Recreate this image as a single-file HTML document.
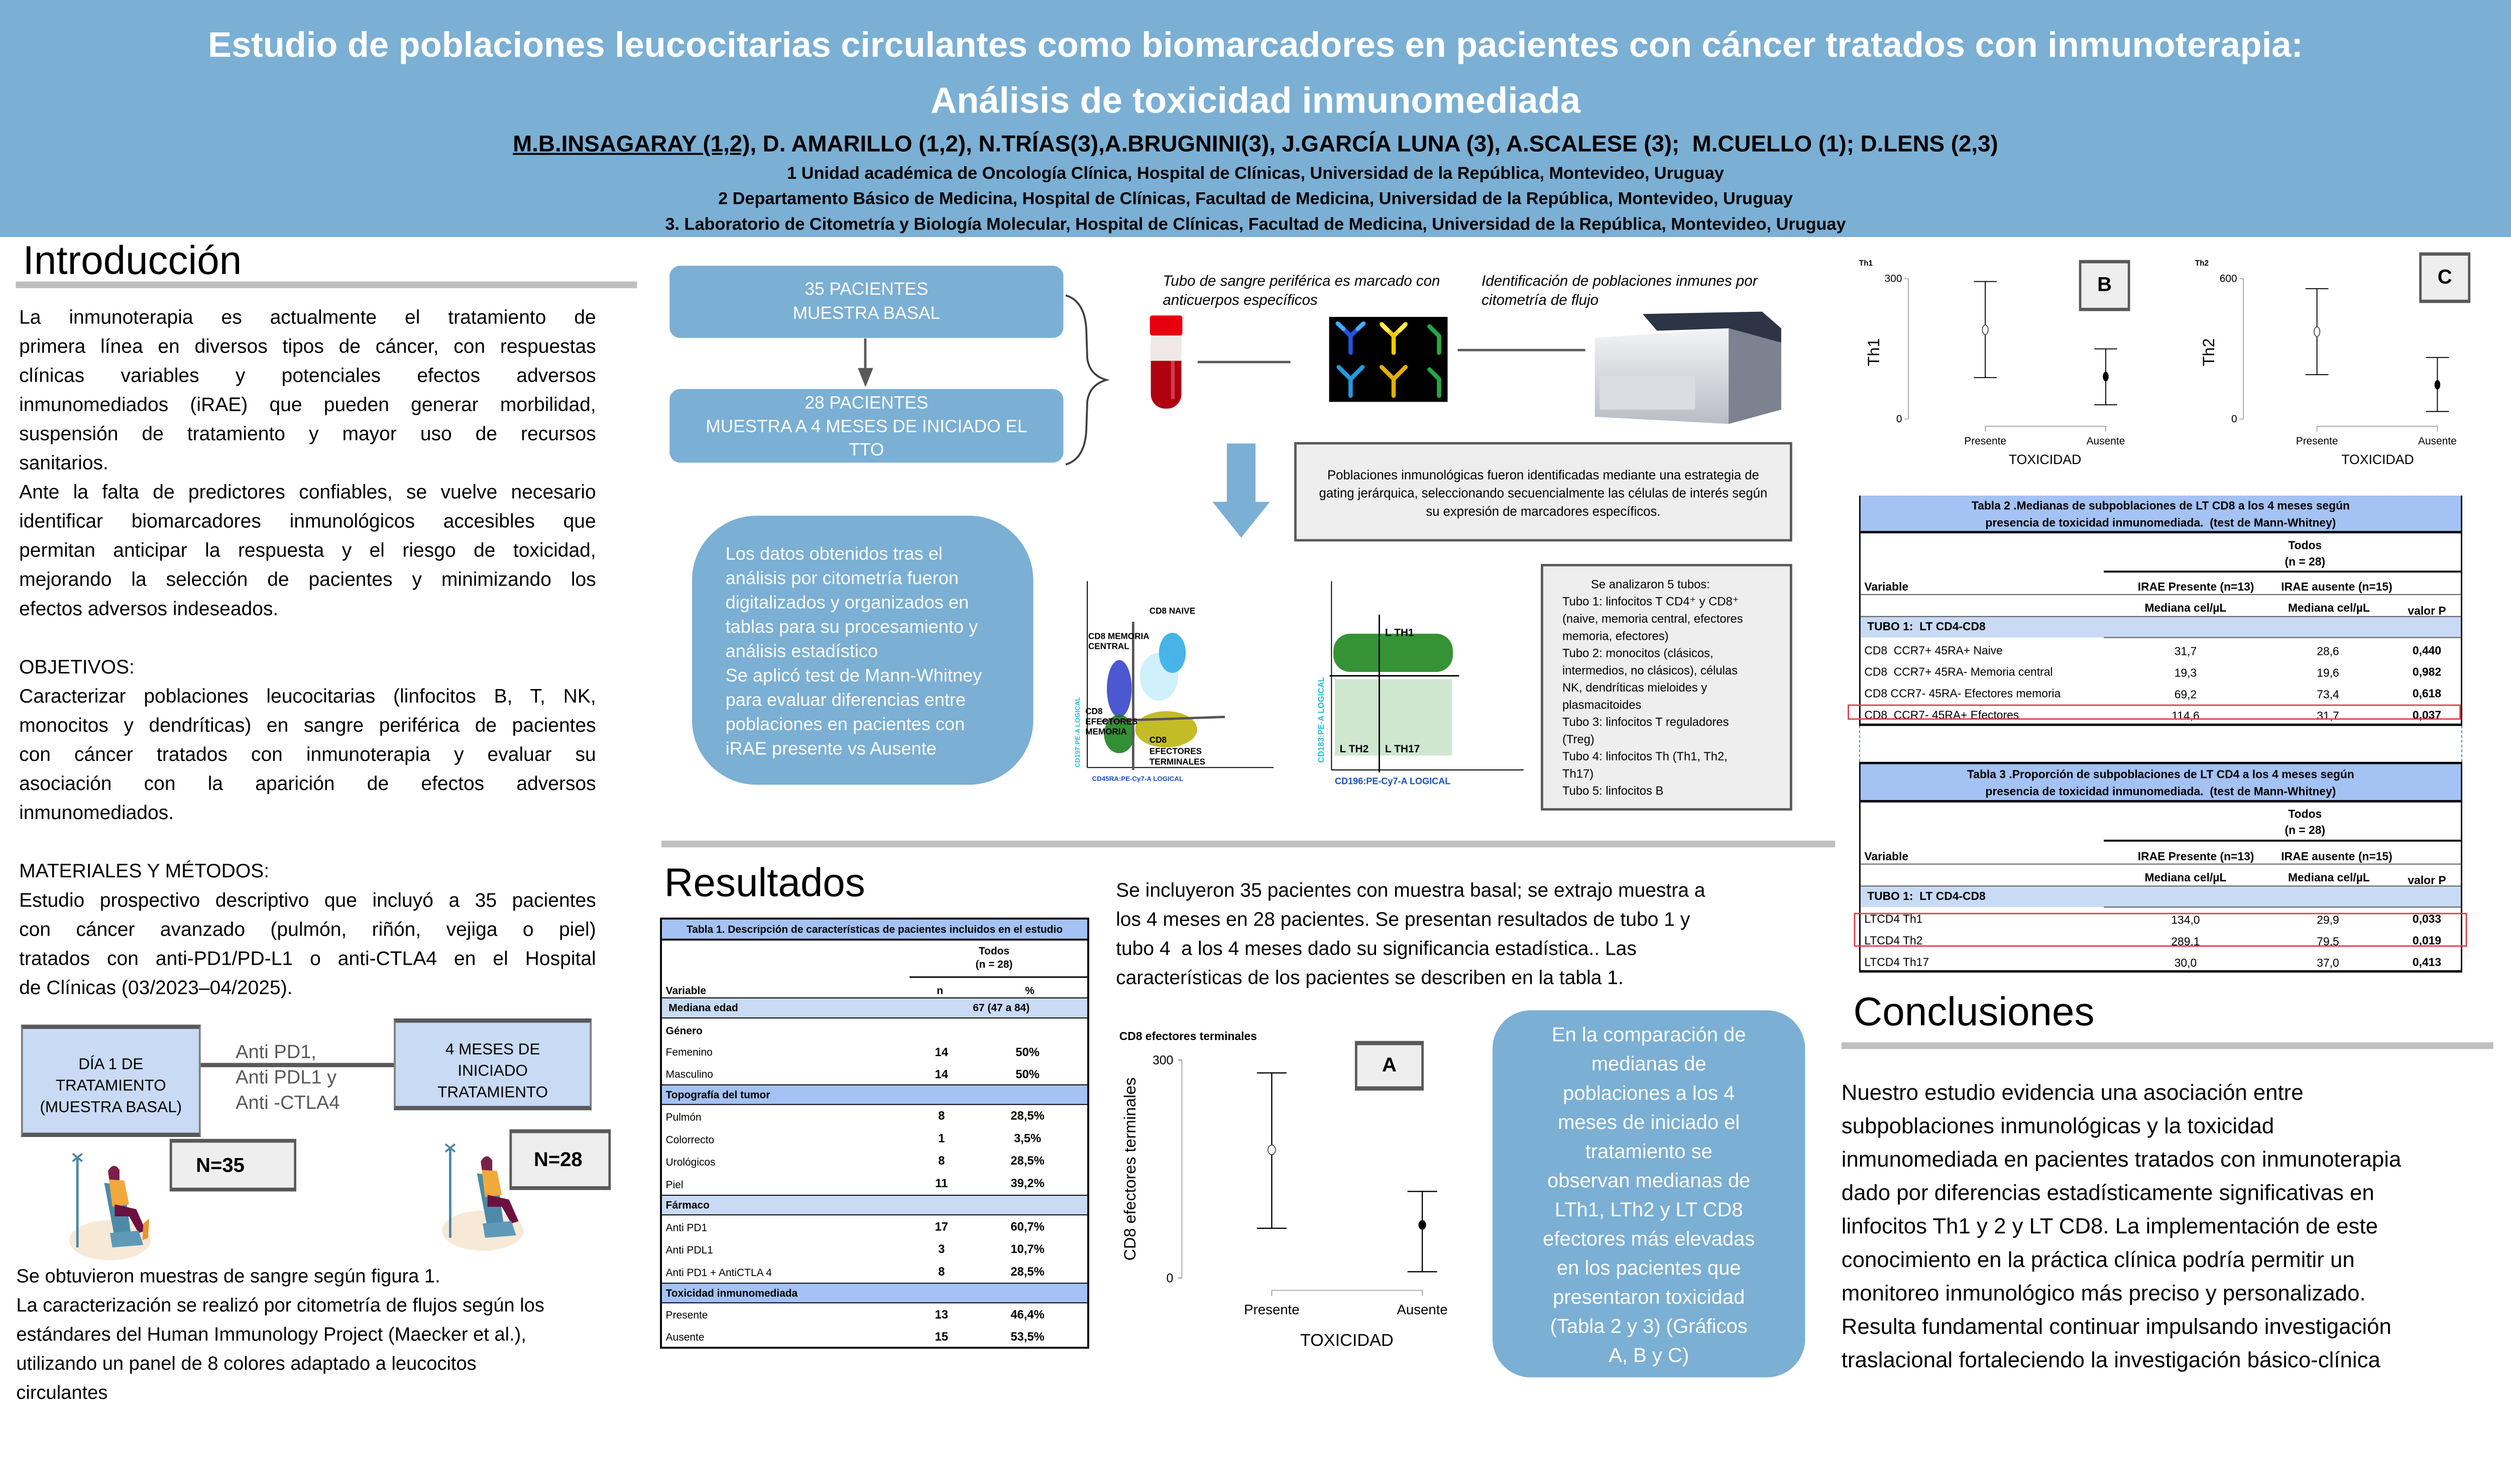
<!DOCTYPE html>
<html><head><meta charset="utf-8">
<style>
*{margin:0;padding:0;box-sizing:border-box}
html,body{width:100%;height:100%;overflow:hidden;background:#fff}
body{position:relative;font-family:"Liberation Sans",sans-serif;color:#000}
#w{position:absolute;left:0;top:0;width:5254px;height:2955px;overflow:hidden;transform-origin:0 0;background:#fff}
.a{position:absolute}
.c{text-align:center}
.l{position:absolute;white-space:nowrap}
.j{text-align:justify;text-align-last:justify;white-space:nowrap;height:61px;line-height:61px}
.n{white-space:nowrap;height:61px;line-height:61px}
.rb{position:absolute;background:#7bafd4;color:#fff}
.gb{position:absolute;background:#eeeeee;border:5px solid #595959}
</style></head><body><div id="w">

<!-- HEADER -->
<div class="a" style="left:0;top:0;width:5254px;height:496px;background:#7bafd4"></div>
<div class="a c" style="left:0;width:5254px;top:48px;font-size:74px;font-weight:bold;color:#fff;line-height:92px;white-space:nowrap;overflow:hidden">Estudio de poblaciones leucocitarias circulantes como biomarcadores en pacientes con cáncer tratados con inmunoterapia:</div>
<div class="a c" style="left:0;width:5254px;top:165px;font-size:76px;font-weight:bold;color:#fff;line-height:92px">Análisis de toxicidad inmunomediada</div>
<div class="a c" style="left:0;width:5254px;top:272px;font-size:48px;font-weight:bold;line-height:60px;white-space:nowrap;overflow:hidden"><u>M.B.INSAGARAY (1,2),</u> D. AMARILLO (1,2), N.TRÍAS(3),A.BRUGNINI(3), J.GARCÍA LUNA (3), A.SCALESE (3);&nbsp; M.CUELLO (1); D.LENS (2,3)</div>
<div class="a c" style="left:0;width:5254px;top:338px;font-size:36px;font-weight:bold;line-height:48px">1 Unidad académica de Oncología Clínica, Hospital de Clínicas, Universidad de la República, Montevideo, Uruguay</div>
<div class="a c" style="left:0;width:5254px;top:391px;font-size:36px;font-weight:bold;line-height:48px">2 Departamento Básico de Medicina, Hospital de Clínicas, Facultad de Medicina, Universidad de la República, Montevideo, Uruguay</div>
<div class="a c" style="left:0;width:5254px;top:445px;font-size:36px;font-weight:bold;line-height:48px">3. Laboratorio de Citometría y Biología Molecular, Hospital de Clínicas, Facultad de Medicina, Universidad de la República, Montevideo, Uruguay</div>

<!-- INTRO -->
<div class="l" style="left:48px;top:492px;font-size:84px;line-height:104px">Introducción</div>
<div class="a" style="left:33px;top:589px;width:1300px;height:14px;background:#bfbfbf"></div>
<div class="a" style="left:40px;top:633px;width:1207px;font-size:41px">
<div class="j">La inmunoterapia es actualmente el tratamiento de</div>
<div class="j">primera línea en diversos tipos de cáncer, con respuestas</div>
<div class="j">clínicas variables y potenciales efectos adversos</div>
<div class="j">inmunomediados (iRAE) que pueden generar morbilidad,</div>
<div class="j">suspensión de tratamiento y mayor uso de recursos</div>
<div class="n">sanitarios.</div>
<div class="j">Ante la falta de predictores confiables, se vuelve necesario</div>
<div class="j">identificar biomarcadores inmunológicos accesibles que</div>
<div class="j">permitan anticipar la respuesta y el riesgo de toxicidad,</div>
<div class="j">mejorando la selección de pacientes y minimizando los</div>
<div class="n">efectos adversos indeseados.</div>
<div class="n"></div>
<div class="n">OBJETIVOS:</div>
<div class="j">Caracterizar poblaciones leucocitarias (linfocitos B, T, NK,</div>
<div class="j">monocitos y dendríticas) en sangre periférica de pacientes</div>
<div class="j">con cáncer tratados con inmunoterapia y evaluar su</div>
<div class="j">asociación con la aparición de efectos adversos</div>
<div class="n">inmunomediados.</div>
<div class="n"></div>
<div class="n">MATERIALES Y MÉTODOS:</div>
<div class="j">Estudio prospectivo descriptivo que incluyó a 35 pacientes</div>
<div class="j">con cáncer avanzado (pulmón, riñón, vejiga o piel)</div>
<div class="j">tratados con anti-PD1/PD-L1 o anti-CTLA4 en el Hospital</div>
<div class="n">de Clínicas (03/2023–04/2025).</div>
</div>

<!-- left flow -->
<div class="a" style="left:419px;top:2224px;width:407px;height:9px;background:#595959"></div>
<div class="a c" style="left:44px;top:2144px;width:376px;height:235px;background:#c9daf5;border:4px solid #7f7f7f;border-top:9px solid #595959;border-bottom:9px solid #595959;font-size:33px;line-height:45px;padding-top:50px">DÍA 1 DE<br>TRATAMIENTO<br>(MUESTRA BASAL)</div>
<div class="a c" style="left:824px;top:2131px;width:414px;height:192px;background:#c9daf5;border:4px solid #7f7f7f;border-top:9px solid #595959;border-bottom:9px solid #595959;font-size:33px;line-height:45px;padding-top:32px">4 MESES DE<br>INICIADO<br>TRATAMIENTO</div>
<div class="a" style="left:493px;top:2175px;font-size:40px;line-height:53px;color:#595959;white-space:nowrap">Anti PD1,<br>Anti PDL1 y<br>Anti -CTLA4</div>
<div class="gb" style="left:355px;top:2383px;width:265px;height:110px;border-top-width:8px;border-bottom-width:8px;font-weight:bold;font-size:42px;line-height:94px;padding-left:50px">N=35</div>
<div class="gb" style="left:1066px;top:2363px;width:212px;height:127px;border-top-width:8px;border-bottom-width:8px;font-weight:bold;font-size:42px;line-height:110px;padding-left:46px">N=28</div>
<svg class="a" style="left:100px;top:2400px" width="260" height="240" viewBox="0 0 260 240">
<ellipse cx="130" cy="195" rx="85" ry="42" fill="#f8e8d6"/>
<line x1="62" y1="20" x2="62" y2="210" stroke="#4a86a8" stroke-width="5"/>
<line x1="52" y1="14" x2="72" y2="30" stroke="#4a86a8" stroke-width="4"/><line x1="72" y1="14" x2="52" y2="30" stroke="#4a86a8" stroke-width="4"/>
<path d="M118 75 L140 190 L175 190 L160 80 Z" fill="#4d8aa8"/>
<circle cx="138" cy="55" r="12" fill="#f2c6a0"/><path d="M126 50 Q138 30 150 48 L150 80 L130 80 Z" fill="#7a1f4a"/>
<path d="M128 68 L160 70 L170 120 L135 125 Z" fill="#f2a93b"/>
<path d="M140 120 L185 130 L205 175 L190 180 L170 145 L140 145 Z" fill="#6b1040"/>
<path d="M200 160 L212 150 L210 190 L198 195 Z" fill="#e8952a"/>
<path d="M130 180 L190 175 L200 205 L135 210 Z" fill="#5e9ab8"/>
</svg>
<svg class="a" style="left:880px;top:2380px" width="260" height="240" viewBox="0 0 260 240">
<ellipse cx="130" cy="195" rx="85" ry="42" fill="#f8e8d6"/>
<line x1="62" y1="20" x2="62" y2="210" stroke="#4a86a8" stroke-width="5"/>
<line x1="52" y1="14" x2="72" y2="30" stroke="#4a86a8" stroke-width="4"/><line x1="72" y1="14" x2="52" y2="30" stroke="#4a86a8" stroke-width="4"/>
<path d="M118 75 L140 190 L175 190 L160 80 Z" fill="#4d8aa8"/>
<circle cx="138" cy="55" r="12" fill="#f2c6a0"/><path d="M126 50 Q138 30 150 48 L150 80 L130 80 Z" fill="#7a1f4a"/>
<path d="M128 68 L160 70 L170 120 L135 125 Z" fill="#f2a93b"/>
<path d="M140 120 L185 130 L205 175 L190 180 L170 145 L140 145 Z" fill="#6b1040"/>
<path d="M130 180 L190 175 L200 205 L135 210 Z" fill="#5e9ab8"/>
</svg>
<div class="a" style="left:34px;top:2640px;font-size:40px">
<div class="n">Se obtuvieron muestras de sangre según figura 1.</div>
<div class="n">La caracterización se realizó por citometría de flujos según los</div>
<div class="n">estándares del Human Immunology Project (Maecker et al.),</div>
<div class="n">utilizando un panel de 8 colores adaptado a leucocitos</div>
<div class="n">circulantes</div>
</div>

<!-- MIDDLE TOP FLOW -->
<div class="rb c" style="left:1401px;top:556px;width:824px;height:151px;border-radius:22px;font-size:37px;line-height:50px;padding-top:24px">35 PACIENTES<br>MUESTRA BASAL</div>
<div class="a" style="left:1808px;top:708px;width:5px;height:70px;background:#595959"></div>
<div class="a" style="left:1795px;top:770px;width:0;height:0;border-left:16px solid transparent;border-right:16px solid transparent;border-top:40px solid #595959"></div>
<div class="rb c" style="left:1401px;top:814px;width:824px;height:154px;border-radius:22px;font-size:37px;line-height:49px;padding-top:4px">28 PACIENTES<br>MUESTRA A 4 MESES DE INICIADO EL<br>TTO</div>
<svg class="a" style="left:2225px;top:610px" width="130" height="370"><path d="M5 8 Q45 20 48 80 L50 140 Q55 175 90 185 Q55 195 50 230 L48 290 Q45 350 5 362" fill="none" stroke="#404040" stroke-width="4"/></svg>
<div class="l" style="left:2433px;top:568px;font-size:31px;font-style:italic;line-height:40px">Tubo de sangre periférica es marcado con<br>anticuerpos específicos</div>
<div class="l" style="left:3100px;top:568px;font-size:31px;font-style:italic;line-height:40px">Identificación de poblaciones inmunes por<br>citometría de flujo</div>
<svg class="a" style="left:2400px;top:655px" width="80" height="210"><rect x="8" y="40" width="64" height="160" rx="30" fill="#b00010"/><rect x="8" y="40" width="64" height="60" fill="#f0e8e8"/><rect x="6" y="5" width="68" height="42" rx="5" fill="#e8000f"/><rect x="50" y="100" width="8" height="80" fill="#e86070" opacity=".6"/></svg>
<div class="a" style="left:2506px;top:755px;width:194px;height:5px;background:#595959"></div>
<svg class="a" style="left:2781px;top:663px" width="248" height="178" viewBox="0 0 248 178"><rect width="248" height="178" fill="#000"/>
<g stroke-width="9" fill="none" stroke-linecap="round">
<path d="M45 75 L45 40 M45 40 L20 15 M45 40 L70 15" stroke="#2255dd"/><path d="M30 25 L18 14 M60 25 L72 14" stroke="#44aaff"/>
<path d="M135 75 L135 40 M135 40 L110 15 M135 40 L160 15" stroke="#eecc00"/><path d="M122 28 L112 18 M148 28 L158 18" stroke="#ffee55"/>
<path d="M45 165 L45 130 M45 130 L20 105 M45 130 L70 105" stroke="#2299dd"/>
<path d="M135 165 L135 130 M135 130 L110 105 M135 130 L160 105" stroke="#e0b000"/>
<path d="M230 75 L230 40 M230 40 L210 20" stroke="#22aa44"/><path d="M230 165 L230 130 M230 130 L210 110" stroke="#22aa44"/>
</g></svg>
<div class="a" style="left:3050px;top:730px;width:267px;height:5px;background:#595959"></div>
<svg class="a" style="left:3317px;top:647px" width="426" height="244" viewBox="0 0 426 244">
<defs><linearGradient id="gm" x1="0" y1="0" x2="0" y2="1"><stop offset="0" stop-color="#f4f4f6"/><stop offset="1" stop-color="#b8bcc4"/></linearGradient></defs>
<path d="M20 60 L300 40 L410 70 L410 210 L300 240 L20 225 Z" fill="url(#gm)"/>
<path d="M120 10 L370 5 L410 40 L410 70 L300 40 L150 45 Z" fill="#2c3446"/>
<path d="M300 40 L410 70 L410 210 L300 240 Z" fill="#7c8290"/>
<rect x="30" y="140" width="200" height="70" fill="#dadde2"/>
</svg>
<div class="a" style="left:2567px;top:928px;width:60px;height:125px;background:#7bafd4"></div>
<div class="a" style="left:2537px;top:1050px;width:0;height:0;border-left:60px solid transparent;border-right:60px solid transparent;border-top:75px solid #7bafd4"></div>
<div class="gb c" style="left:2708px;top:925px;width:1042px;height:208px;font-size:27px;line-height:38px;padding-top:45px">Poblaciones inmunológicas fueron identificadas mediante una estrategia de<br>gating jerárquica, seleccionando secuencialmente las células de interés según<br>su expresión de marcadores específicos.</div>
<div class="rb" style="left:1448px;top:1079px;width:714px;height:563px;border-radius:135px;font-size:38px;line-height:51px;padding:55px 0 0 70px;white-space:nowrap;overflow:hidden">Los datos obtenidos tras el<br>análisis por citometría fueron<br>digitalizados y organizados en<br>tablas para su procesamiento y<br>análisis estadístico<br>Se aplicó test de Mann-Whitney<br>para evaluar diferencias entre<br>poblaciones en pacientes con<br>iRAE presente vs Ausente</div>

<!-- flow plot 1 -->
<svg class="a" style="left:2245px;top:1206px" width="440" height="440" viewBox="0 0 440 440" font-family="Liberation Sans, sans-serif">
<line x1="30" y1="10" x2="30" y2="400" stroke="#000" stroke-width="2"/><line x1="30" y1="400" x2="420" y2="400" stroke="#000" stroke-width="2"/>
<ellipse cx="97" cy="235" rx="26" ry="60" fill="#1020c0" opacity=".75"/>
<ellipse cx="208" cy="160" rx="28" ry="42" fill="#1aa0e0" opacity=".8"/>
<ellipse cx="180" cy="210" rx="40" ry="50" fill="#40c0f0" opacity=".25"/>
<ellipse cx="97" cy="330" rx="32" ry="40" fill="#107a10" opacity=".85"/>
<ellipse cx="195" cy="320" rx="65" ry="38" fill="#b8b000" opacity=".85"/>
<line x1="126" y1="95" x2="126" y2="405" stroke="#555" stroke-width="5"/>
<line x1="60" y1="303" x2="318" y2="294" stroke="#555" stroke-width="5"/>
<g font-weight="bold" font-size="18"><text x="160" y="78">CD8 NAIVE</text><text x="32" y="131">CD8 MEMORIA</text><text x="32" y="152">CENTRAL</text>
<text x="26" y="288">CD8</text><text x="26" y="310">EFECTORES</text><text x="26" y="331">MEMORIA</text>
<text x="160" y="348">CD8</text><text x="160" y="372">EFECTORES</text><text x="160" y="394">TERMINALES</text></g>
<text x="40" y="428" font-size="14" font-weight="bold" fill="#1a50c0">CD45RA:PE-Cy7-A LOGICAL</text>
<text transform="translate(14,400) rotate(-90)" font-size="14" font-weight="bold" fill="#20c0d0">CD197:PE-A LOGICAL</text>
</svg>
<svg class="a" style="left:2748px;top:1206px" width="455" height="450" viewBox="0 0 455 450" font-family="Liberation Sans, sans-serif">
<line x1="38" y1="10" x2="38" y2="405" stroke="#000" stroke-width="2"/><line x1="38" y1="405" x2="440" y2="405" stroke="#000" stroke-width="2"/>
<rect x="42" y="120" width="250" height="80" rx="35" fill="#128012" opacity=".85"/>
<rect x="45" y="215" width="245" height="160" fill="#40a040" opacity=".25"/>
<line x1="138" y1="80" x2="138" y2="410" stroke="#000" stroke-width="3"/>
<line x1="34" y1="208" x2="305" y2="208" stroke="#000" stroke-width="3"/>
<g font-weight="bold" font-size="22"><text x="150" y="125">L TH1</text><text x="55" y="368">L TH2</text><text x="150" y="368">L TH17</text></g>
<text x="45" y="435" font-size="19" font-weight="bold" fill="#1a50c0">CD196:PE-Cy7-A LOGICAL</text>
<text transform="translate(22,390) rotate(-90)" font-size="17" font-weight="bold" fill="#20c0d0">CD183:PE-A LOGICAL</text>
</svg>
<div class="gb" style="left:3224px;top:1180px;width:526px;height:516px;font-size:25px;line-height:36px;padding:20px 0 0 40px;white-space:nowrap;overflow:hidden"><span style="padding-left:60px">Se analizaron 5 tubos:</span><br>Tubo 1: linfocitos T CD4⁺ y CD8⁺<br>(naive, memoria central, efectores<br>memoria, efectores)<br>Tubo 2: monocitos (clásicos,<br>intermedios, no clásicos), células<br>NK, dendríticas mieloides y<br>plasmacitoides<br>Tubo 3: linfocitos T reguladores<br>(Treg)<br>Tubo 4: linfocitos Th (Th1, Th2,<br>Th17)<br>Tubo 5: linfocitos B</div>

<div class="a" style="left:1384px;top:1759px;width:2456px;height:14px;background:#bfbfbf"></div>
<div class="l" style="left:1390px;top:1794px;font-size:84px;line-height:104px">Resultados</div>

<!-- TABLE 1 -->
<div class="a" style="left:1381px;top:1920px;width:898px;height:902px;border:4px solid #000;font-size:22px">
<div class="a c" style="left:0;top:0;width:890px;height:44px;background:#a4c2f4;border-bottom:4px solid #000;font-weight:bold;line-height:42px">Tabla 1. Descripción de características de pacientes incluidos en el estudio</div>
<div class="a c" style="left:620px;top:52px;width:150px;font-weight:bold;line-height:28px">Todos<br>(n = 28)</div>
<div class="a" style="left:518px;top:119px;width:372px;height:3px;background:#000"></div>
<div class="a" style="left:8px;top:136px;font-weight:bold">Variable</div><div class="a" style="left:575px;top:136px;font-weight:bold">n</div><div class="a" style="left:760px;top:136px;font-weight:bold">%</div>
<div class="a" style="left:0;top:163px;width:890px;height:44px;background:#c9daf5;border-top:2px solid #000;border-bottom:2px solid #000;font-weight:bold;line-height:40px"><span style="padding-left:14px">Mediana edad</span><span style="position:absolute;left:710px;transform:translateX(-50%)">67 (47 a 84)</span></div>
<div class="a" style="left:8px;top:220px;font-weight:bold">Género</div>
<div class="a" style="left:0;top:345px;width:890px;height:43px;background:#a4c2f4;border-top:2px solid #000;border-bottom:2px solid #000;line-height:40px;font-weight:bold;padding-left:8px">Topografía del tumor</div>
<div class="a" style="left:0;top:576px;width:890px;height:43px;background:#c9daf5;border-top:2px solid #000;border-bottom:2px solid #000;line-height:40px;font-weight:bold;padding-left:8px">Fármaco</div>
<div class="a" style="left:0;top:760px;width:890px;height:43px;background:#a4c2f4;border-top:2px solid #000;border-bottom:2px solid #000;line-height:40px;font-weight:bold;padding-left:8px">Toxicidad inmunomediada</div>
<div class="a" style="left:8px;top:255px;line-height:46px">Femenino<br>Masculino</div>
<div class="a c" style="left:540px;top:255px;width:90px;line-height:46px;font-weight:bold;font-size:25px">14<br>14</div>
<div class="a c" style="left:700px;top:255px;width:130px;line-height:46px;font-weight:bold;font-size:25px">50%<br>50%</div>
<div class="a" style="left:8px;top:390px;line-height:47px">Pulmón<br>Colorrecto<br>Urológicos<br>Piel</div>
<div class="a c" style="left:540px;top:388px;width:90px;line-height:47px;font-weight:bold;font-size:25px">8<br>1<br>8<br>11</div>
<div class="a c" style="left:700px;top:388px;width:130px;line-height:47px;font-weight:bold;font-size:25px">28,5%<br>3,5%<br>28,5%<br>39,2%</div>
<div class="a" style="left:8px;top:621px;line-height:47px">Anti PD1<br>Anti PDL1<br>Anti PD1 + AntiCTLA 4</div>
<div class="a c" style="left:540px;top:620px;width:90px;line-height:47px;font-weight:bold;font-size:25px">17<br>3<br>8</div>
<div class="a c" style="left:700px;top:620px;width:130px;line-height:47px;font-weight:bold;font-size:25px">60,7%<br>10,7%<br>28,5%</div>
<div class="a" style="left:8px;top:805px;line-height:46px">Presente<br>Ausente</div>
<div class="a c" style="left:540px;top:804px;width:90px;line-height:46px;font-weight:bold;font-size:25px">13<br>15</div>
<div class="a c" style="left:700px;top:804px;width:130px;line-height:46px;font-weight:bold;font-size:25px">46,4%<br>53,5%</div>
</div>

<div class="a" style="left:2335px;top:1832px;font-size:41px">
<div class="n">Se incluyeron 35 pacientes con muestra basal; se extrajo muestra a</div>
<div class="n">los 4 meses en 28 pacientes. Se presentan resultados de tubo 1 y</div>
<div class="n">tubo 4&nbsp; a los 4 meses dado su significancia estadística.. Las</div>
<div class="n">características de los pacientes se describen en la tabla 1.</div>
</div>

<!-- CHART A -->
<svg class="a" style="left:2330px;top:2140px" width="700" height="700" viewBox="2330 2140 700 700" font-family="Liberation Sans, sans-serif">
<text x="2342" y="2176" font-size="24" font-weight="bold">CD8 efectores terminales</text>
<line x1="2473" y1="2218" x2="2473" y2="2674" stroke="#aaa" stroke-width="2"/>
<line x1="2465" y1="2218" x2="2473" y2="2218" stroke="#888" stroke-width="2"/><line x1="2465" y1="2674" x2="2473" y2="2674" stroke="#888" stroke-width="2"/>
<text x="2455" y="2227" font-size="26" text-anchor="end">300</text><text x="2455" y="2683" font-size="26" text-anchor="end">0</text>
<text transform="translate(2376,2446) rotate(-90)" font-size="34" text-anchor="middle">CD8 efectores terminales</text>
<g stroke="#000" stroke-width="2.5" fill="none">
<line x1="2661" y1="2245" x2="2661" y2="2570"/><line x1="2630" y1="2245" x2="2692" y2="2245"/><line x1="2630" y1="2570" x2="2692" y2="2570"/>
<line x1="2976" y1="2493" x2="2976" y2="2661"/><line x1="2945" y1="2493" x2="3007" y2="2493"/><line x1="2945" y1="2661" x2="3007" y2="2661"/>
</g>
<ellipse cx="2661" cy="2406" rx="8" ry="10" fill="#fff" stroke="#555" stroke-width="2"/>
<ellipse cx="2976" cy="2563" rx="8" ry="10" fill="#000"/>
<polyline points="2661,2712 2661,2700 2976,2700 2976,2712" fill="none" stroke="#aaa" stroke-width="2"/>
<text x="2661" y="2750" font-size="29" text-anchor="middle">Presente</text><text x="2976" y="2750" font-size="29" text-anchor="middle">Ausente</text>
<text x="2818" y="2816" font-size="36" text-anchor="middle">TOXICIDAD</text>
</svg>
<div class="gb c" style="left:2835px;top:2178px;width:144px;height:104px;border-top-width:9px;border-bottom-width:9px;font-weight:bold;font-size:42px;line-height:82px">A</div>

<div class="rb c" style="left:3123px;top:2114px;width:654px;height:768px;border-radius:80px;font-size:42px;line-height:61px;padding-top:20px;white-space:nowrap;overflow:hidden">En la comparación de<br>medianas de<br>poblaciones a los 4<br>meses de iniciado el<br>tratamiento se<br>observan medianas de<br>LTh1, LTh2 y LT CD8<br>efectores más elevadas<br>en los pacientes que<br>presentaron toxicidad<br>(Tabla 2 y 3) (Gráficos<br>A, B y C)</div>

<!-- CHARTS B & C -->
<svg class="a" style="left:3880px;top:520px" width="1360" height="460" viewBox="3880 520 1360 460" font-family="Liberation Sans, sans-serif">
<g font-size="16" font-weight="bold"><text x="3890" y="556">Th1</text><text x="4593" y="556">Th2</text></g>
<g stroke="#aaa" stroke-width="2" fill="none">
<line x1="3993" y1="583" x2="3993" y2="877"/><line x1="3985" y1="583" x2="3993" y2="583"/><line x1="3985" y1="877" x2="3993" y2="877"/>
<polyline points="4154,903 4154,892 4406,892 4406,903"/>
<line x1="4694" y1="583" x2="4694" y2="877"/><line x1="4686" y1="583" x2="4694" y2="583"/><line x1="4686" y1="877" x2="4694" y2="877"/>
<polyline points="4848,903 4848,892 5100,892 5100,903"/>
</g>
<g font-size="22" text-anchor="end"><text x="3980" y="590">300</text><text x="3980" y="884">0</text><text x="4681" y="590">600</text><text x="4681" y="884">0</text></g>
<g font-size="34" text-anchor="middle"><text transform="translate(3932,737) rotate(-90)">Th1</text><text transform="translate(4633,737) rotate(-90)">Th2</text></g>
<g stroke="#000" stroke-width="2" fill="none">
<line x1="4154" y1="589" x2="4154" y2="790"/><line x1="4130" y1="589" x2="4178" y2="589"/><line x1="4130" y1="790" x2="4178" y2="790"/>
<line x1="4406" y1="730" x2="4406" y2="847"/><line x1="4382" y1="730" x2="4430" y2="730"/><line x1="4382" y1="847" x2="4430" y2="847"/>
<line x1="4848" y1="604" x2="4848" y2="784"/><line x1="4824" y1="604" x2="4872" y2="604"/><line x1="4824" y1="784" x2="4872" y2="784"/>
<line x1="5100" y1="748" x2="5100" y2="861"/><line x1="5076" y1="748" x2="5124" y2="748"/><line x1="5076" y1="861" x2="5124" y2="861"/>
</g>
<ellipse cx="4154" cy="690" rx="6" ry="10" fill="#fff" stroke="#555" stroke-width="2"/>
<ellipse cx="4406" cy="788" rx="6" ry="10" fill="#000"/>
<ellipse cx="4848" cy="694" rx="6" ry="10" fill="#fff" stroke="#555" stroke-width="2"/>
<ellipse cx="5100" cy="805" rx="6" ry="10" fill="#000"/>
<g font-size="22" text-anchor="middle"><text x="4154" y="930">Presente</text><text x="4406" y="930">Ausente</text><text x="4848" y="930">Presente</text><text x="5100" y="930">Ausente</text></g>
<g font-size="28" text-anchor="middle"><text x="4279" y="971">TOXICIDAD</text><text x="4975" y="971">TOXICIDAD</text></g>
</svg>
<div class="gb c" style="left:4350px;top:544px;width:107px;height:107px;border-top-width:7px;border-bottom-width:7px;font-weight:bold;font-size:42px;line-height:88px">B</div>
<div class="gb c" style="left:5062px;top:528px;width:107px;height:106px;border-top-width:7px;border-bottom-width:7px;font-weight:bold;font-size:42px;line-height:88px">C</div>

<!-- TABLE 2 & 3 -->
<div class="a" style="left:3890px;top:1037px;width:1262px;height:998px;border:2px dashed #4a86c8"></div>
<div class="a" style="left:3890px;top:1037px;width:1262px;height:482px;border-left:3px solid #000;border-right:3px solid #000;border-bottom:5px solid #000;font-size:24px;overflow:hidden">
<div class="a c" style="left:0;top:0;width:1256px;height:79px;background:#a4c2f4;border-bottom:5px solid #000;font-weight:bold;line-height:36px;padding-top:4px">Tabla 2 .Medianas de subpoblaciones de LT CD8 a los 4 meses según<br>presencia de toxicidad inmunomediada.&nbsp; (test de Mann-Whitney)</div>
<div class="a c" style="left:860px;top:88px;width:140px;font-weight:bold;line-height:34px">Todos<br>(n = 28)</div>
<div class="a" style="left:509px;top:157px;width:747px;height:4px;background:#000"></div>
<div class="a" style="left:8px;top:178px;font-weight:bold">Variable</div>
<div class="a c" style="left:580px;top:178px;width:200px;font-weight:bold;white-space:nowrap">IRAE Presente (n=13)</div>
<div class="a c" style="left:880px;top:178px;width:200px;font-weight:bold;white-space:nowrap">IRAE ausente (n=15)</div>
<div class="a" style="left:0;top:206px;width:1256px;height:2px;background:#555"></div>
<div class="a c" style="left:580px;top:222px;width:200px;font-weight:bold;white-space:nowrap">Mediana cel/µL</div>
<div class="a c" style="left:880px;top:222px;width:200px;font-weight:bold;white-space:nowrap">Mediana cel/µL</div>
<div class="a c" style="left:1135px;top:228px;width:100px;font-weight:bold">valor P</div>
<div class="a" style="left:0;top:252px;width:1256px;height:45px;background:#c9daf5;border-top:2px solid #555;font-weight:bold;line-height:42px;padding-left:14px">TUBO 1:&nbsp; LT CD4-CD8</div>
<div class="a" style="left:509px;top:296px;width:747px;height:2px;background:#555"></div>
<div class="a" style="left:8px;top:302px;line-height:45px;white-space:nowrap">CD8&nbsp; CCR7+ 45RA+ Naive<br>CD8&nbsp; CCR7+ 45RA- Memoria central<br>CD8 CCR7- 45RA- Efectores memoria<br>CD8&nbsp; CCR7- 45RA+ Efectores</div>
<div class="a c" style="left:630px;top:304px;width:100px;line-height:45px">31,7<br>19,3<br>69,2<br>114,6</div>
<div class="a c" style="left:928px;top:304px;width:100px;line-height:45px">28,6<br>19,6<br>73,4<br>31,7</div>
<div class="a c" style="left:1135px;top:302px;width:100px;line-height:45px;font-weight:bold">0,440<br>0,982<br>0,618<br>0,037</div>
</div>
<div class="a" style="left:3866px;top:1474px;width:1283px;height:32px;border:3px solid #e04050"></div>

<div class="a" style="left:3890px;top:1594px;width:1262px;height:441px;border:3px solid #000;border-top-width:5px;border-bottom-width:5px;font-size:24px;overflow:hidden">
<div class="a c" style="left:0;top:0;width:1256px;height:80px;background:#a4c2f4;border-bottom:5px solid #000;font-weight:bold;line-height:36px;padding-top:4px">Tabla 3 .Proporción de subpoblaciones de LT CD4 a los 4 meses según<br>presencia de toxicidad inmunomediada.&nbsp; (test de Mann-Whitney)</div>
<div class="a c" style="left:860px;top:88px;width:140px;font-weight:bold;line-height:34px">Todos<br>(n = 28)</div>
<div class="a" style="left:509px;top:158px;width:747px;height:4px;background:#000"></div>
<div class="a" style="left:8px;top:180px;font-weight:bold">Variable</div>
<div class="a c" style="left:580px;top:180px;width:200px;font-weight:bold;white-space:nowrap">IRAE Presente (n=13)</div>
<div class="a c" style="left:880px;top:180px;width:200px;font-weight:bold;white-space:nowrap">IRAE ausente (n=15)</div>
<div class="a" style="left:0;top:208px;width:1256px;height:2px;background:#555"></div>
<div class="a c" style="left:580px;top:224px;width:200px;font-weight:bold;white-space:nowrap">Mediana cel/µL</div>
<div class="a c" style="left:880px;top:224px;width:200px;font-weight:bold;white-space:nowrap">Mediana cel/µL</div>
<div class="a c" style="left:1135px;top:230px;width:100px;font-weight:bold">valor P</div>
<div class="a" style="left:0;top:254px;width:1256px;height:45px;background:#c9daf5;border-top:2px solid #555;font-weight:bold;line-height:42px;padding-left:14px">TUBO 1:&nbsp; LT CD4-CD8</div>
<div class="a" style="left:509px;top:298px;width:747px;height:2px;background:#555"></div>
<div class="a" style="left:8px;top:302px;line-height:45px;white-space:nowrap">LTCD4 Th1<br>LTCD4 Th2<br>LTCD4 Th17</div>
<div class="a c" style="left:630px;top:304px;width:100px;line-height:45px">134,0<br>289,1<br>30,0</div>
<div class="a c" style="left:928px;top:304px;width:100px;line-height:45px">29,9<br>79,5<br>37,0</div>
<div class="a c" style="left:1135px;top:302px;width:100px;line-height:45px;font-weight:bold">0,033<br>0,019<br>0,413</div>
</div>
<div class="a" style="left:3879px;top:1910px;width:1283px;height:71px;border:3px solid #e04050"></div>

<!-- CONCLUSIONES -->
<div class="l" style="left:3878px;top:2064px;font-size:84px;line-height:104px">Conclusiones</div>
<div class="a" style="left:3853px;top:2181px;width:1364px;height:14px;background:#bfbfbf"></div>
<div class="a" style="left:3853px;top:2250px;width:1390px;font-size:46px;line-height:70px;white-space:nowrap;overflow:hidden">Nuestro estudio evidencia una asociación entre<br>subpoblaciones inmunológicas y la toxicidad<br>inmunomediada en pacientes tratados con inmunoterapia<br>dado por diferencias estadísticamente significativas en<br>linfocitos Th1 y 2 y LT CD8. La implementación de este<br>conocimiento en la práctica clínica podría permitir un<br>monitoreo inmunológico más preciso y personalizado.<br>Resulta fundamental continuar impulsando investigación<br>traslacional fortaleciendo la investigación básico-clínica</div>

</div>
<script>
(function(){
  var w=document.getElementById('w');
  function fit(){
    var vw=document.documentElement.clientWidth||window.innerWidth;
    var s=vw/5254;
    if(s>0 && Math.abs(s-1)>0.002){w.style.transform='scale('+s+')';}else{w.style.transform='none';}
  }
  fit();
  window.addEventListener('resize',fit);
})();
</script>
</body></html>
